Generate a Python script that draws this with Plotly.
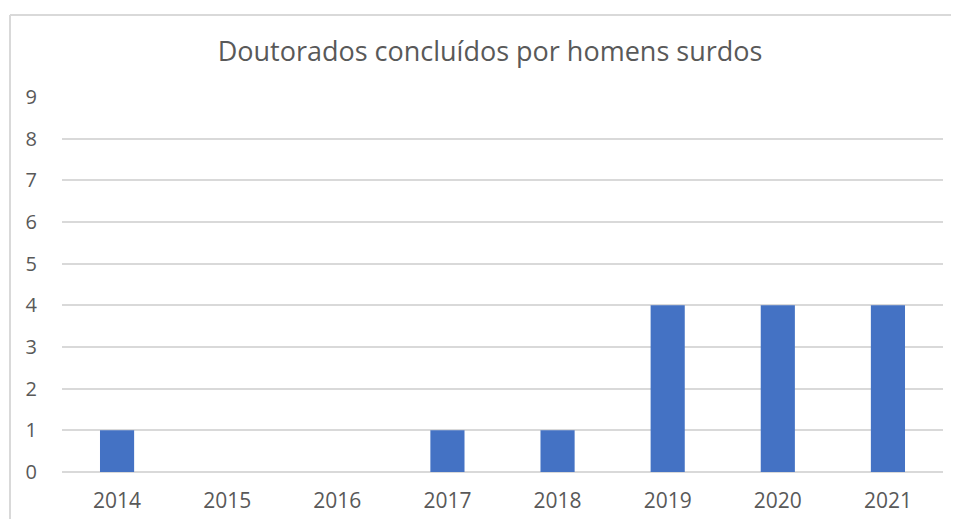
import plotly.graph_objects as go

years = ["2014", "2015", "2016", "2017", "2018", "2019", "2020", "2021"]
values = [1, 0, 0, 1, 1, 4, 4, 4]
y_ticks = [0, 1, 2, 3, 4, 5, 6, 7, 8, 9]
title = "Doutorados concluídos por homens surdos"

# page has an 8px body margin; figure coordinates are page coordinates minus 8
OFF = 8
W, H = 959 - OFF, 519 - OFF
L, R, T, B = 62 - OFF, 943 - OFF, 97 - OFF, 472 - OFF

fig = go.Figure(go.Bar(x=years, y=values, marker=dict(color="#4472C4", line=dict(width=0))))

def px_x(p):
    return (p - L) / (R - L)

def px_y(p):
    return (B - p) / (B - T)

fig.update_layout(
    width=W, height=H,
    margin=dict(l=L, r=W - R, t=T, b=H - B, pad=0, autoexpand=False),
    paper_bgcolor="white", plot_bgcolor="white",
    bargap=0.69,
    showlegend=False,
    font=dict(family="Open Sans", color="#595959"),
    title=dict(text=title, xref="container", yref="container",
               x=(490 - OFF) / W, xanchor="center", y=1 - (52 - OFF) / H, yanchor="middle",
               font=dict(size=27, color="#595959", family="Open Sans")),
    xaxis=dict(showgrid=False, showline=False, zeroline=False, ticks="outside", ticklen=10,
               automargin=False,
               tickcolor="rgba(0,0,0,0)", tickfont=dict(size=21, color="#595959")),
    yaxis=dict(range=[0, 9], tickvals=y_ticks, showgrid=True, gridcolor="#d9d9d9", gridwidth=1.5,
               zeroline=True, zerolinecolor="#d9d9d9", zerolinewidth=1.5, showline=False,
               automargin=False,
               ticks="outside", ticklen=20, tickcolor="rgba(0,0,0,0)",
               tickfont=dict(size=20, color="#595959")),
    shapes=[
        dict(type="line", xref="paper", yref="paper", x0=px_x(10 - OFF), x1=px_x(W + 5), y0=px_y(15 - OFF), y1=px_y(15 - OFF),
             line=dict(color="#d9d9d9", width=2)),
        dict(type="line", xref="paper", yref="paper", x0=px_x(10 - OFF), x1=px_x(10 - OFF), y0=px_y(15 - OFF), y1=px_y(H + 5),
             line=dict(color="#d9d9d9", width=2)),
    ],
)

fig.write_html("out.html")
